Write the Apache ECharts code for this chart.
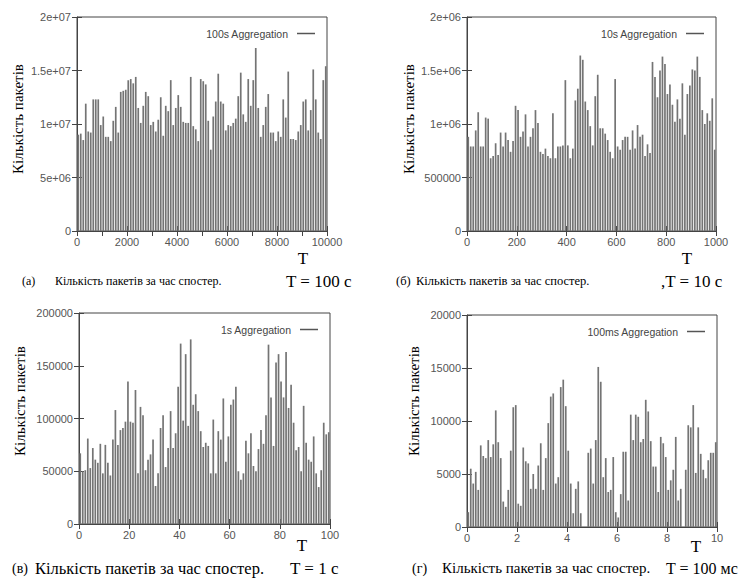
<!DOCTYPE html>
<html><head><meta charset="utf-8">
<script src="https://cdn.jsdelivr.net/npm/echarts@6/dist/echarts.min.js"></script>
<style>html,body{margin:0;padding:0;background:#fff}#c{width:744px;height:579px}</style>
</head><body><div id="c"></div><script>
// ---- data ----
const seriesNames = ['100s Aggregation', '10s Aggregation', '1s Aggregation', '100ms Aggregation'];
const binSteps = [100, 10, 1, 0.1];            // aggregation interval of each panel (T units)
const xMaxes = [10000, 1000, 100, 10];
const xTickLabelsA = ['0', '2000', '4000', '6000', '8000', '10000'];
const xTickLabelsB = ['0', '200', '400', '600', '800', '1000'];
const xTickLabelsC = ['0', '20', '40', '60', '80', '100'];
const xTickLabelsD = ['0', '2', '4', '6', '8', '10'];
const yTickLabelsA = ['0', '5e+06', '1e+07', '1.5e+07', '2e+07'];
const yTickLabelsB = ['0', '500000', '1e+06', '1.5e+06', '2e+06'];
const yTickLabelsC = ['0', '50000', '100000', '150000', '200000'];
const yTickLabelsD = ['0', '5000', '10000', '15000', '20000'];
const yMaxes = [2e7, 2e6, 200000, 20000];

const valuesA = [9.0e6,9.1e6,8.5e6,11.9e6,9.3e6,9.2e6,12.3e6,12.3e6,12.3e6,9.9e6,
 10.7e6,8.8e6,8.8e6,8.4e6,10.3e6,11.6e6,9.2e6,13.0e6,13.1e6,13.2e6,
 14.1e6,14.2e6,13.8e6,14.4e6,11.5e6,10.1e6,11.7e6,13.0e6,12.6e6,9.9e6,
 10.2e6,9.3e6,10.4e6,12.5e6,8.9e6,11.7e6,11.2e6,14.1e6,9.9e6,11.5e6,
 12.7e6,11.6e6,10.2e6,10.1e6,10.1e6,14.4e6,9.8e6,9.5e6,8.4e6,14.2e6,
 14.0e6,13.7e6,10.3e6,7.6e6,10.7e6,12.1e6,14.7e6,12.1e6,11.9e6,9.4e6,
 9.9e6,9.8e6,10.1e6,10.5e6,12.6e6,14.8e6,10.9e6,10.2e6,14.2e6,11.7e6,
 14.1e6,17.1e6,11.5e6,8.8e6,9.9e6,11.6e6,12.8e6,9.2e6,9.2e6,8.4e6,
 9.3e6,8.8e6,12.3e6,10.6e6,14.9e6,8.6e6,8.6e6,8.5e6,9.3e6,9.9e6,
 12.1e6,12.3e6,9.4e6,11.3e6,15.1e6,12.3e6,9.2e6,8.6e6,14.1e6,15.4e6];
const valuesB = [880000,790000,790000,940000,1110000,790000,790000,1060000,1050000,680000,
 700000,820000,710000,920000,790000,920000,850000,740000,840000,1170000,
 1130000,880000,930000,1090000,790000,880000,960000,1130000,1010000,740000,
 720000,770000,700000,680000,1100000,680000,790000,790000,800000,1410000,
 800000,680000,770000,1220000,1330000,1640000,1600000,1210000,1130000,980000,
 800000,1260000,1460000,960000,960000,910000,850000,740000,680000,1420000,
 790000,760000,850000,880000,880000,760000,940000,770000,990000,880000,
 900000,700000,810000,730000,1580000,1440000,1250000,1500000,1630000,1560000,
 1280000,1370000,1180000,1020000,1230000,1050000,1380000,900000,1280000,1360000,
 1510000,1500000,1630000,1440000,1130000,1000000,1100000,1030000,1240000,760000];
const valuesC = [67000,50000,51000,81000,53000,72000,61000,58000,76000,48000,
 75000,58000,46000,80000,108000,75000,89000,91000,97000,135000,
 97000,96000,127000,48000,111000,103000,51000,61000,66000,80000,
 36000,48000,91000,103000,54000,72000,107000,72000,86000,130000,
 171000,98000,161000,93000,175000,113000,123000,107000,88000,73000,
 77000,74000,48000,99000,48000,88000,80000,119000,59000,83000,
 113000,118000,130000,50000,42000,48000,79000,67000,86000,55000,
 50000,71000,89000,76000,103000,170000,120000,74000,153000,161000,
 135000,120000,163000,110000,132000,96000,70000,73000,50000,112000,
 77000,61000,59000,83000,48000,35000,51000,96000,85000,87000];
const valuesD = [1400,5500,4100,5200,3500,7700,6700,6500,8200,6600,
 7800,11000,8000,6500,2400,1900,3500,7200,11300,11500,
 2200,2000,7500,6200,6000,3600,5000,3600,5800,7900,
 3500,6500,9800,12300,12600,4100,4700,13200,13900,11400,
 7200,4100,1300,3600,4300,1300,0,0,7000,7400,
 4100,8200,15100,13700,4700,6500,3300,3500,6600,1400,
 900,3100,7100,7100,2500,10600,8200,10600,10400,8000,
 8300,12000,10900,8100,5700,5700,3300,8500,7900,6600,
 3500,4400,5400,8500,2500,3600,0,5400,9600,9400,
 11500,5100,9400,6900,5400,4600,6300,7000,7000,8000];

const yTitle = 'Кількість пакетів';
const xTitle = 'T';
const captionLetters = ['(а)', '(б)', '(в)', '(г)'];
const captionText = 'Кількість пакетів за час спостер.';
const captionT = ['T = 100 с', ',T = 10 с', 'T = 1 с', 'T = 100 мс'];

// ---- layout ----
const grids = [
  {left: 77, top: 17, width: 250, height: 214},
  {left: 467, top: 17, width: 249, height: 214},
  {left: 79, top: 313, width: 251, height: 211},
  {left: 467, top: 315, width: 250, height: 212}
];
const topTickSteps = [1000, 200, 20, 2];
const xLabels = [xTickLabelsA, xTickLabelsB, xTickLabelsC, xTickLabelsD];
const yLabels = [yTickLabelsA, yTickLabelsB, yTickLabelsC, yTickLabelsD];
const values = [valuesA, valuesB, valuesC, valuesD];

const frame = '#444';
const tickFont = {color: '#555', fontFamily: 'Liberation Sans', fontSize: 11};

const option = {animation: false, grid: [], xAxis: [], yAxis: [], series: [], legend: [], graphic: []};

for (let k = 0; k < 4; k++) {
  const g = grids[k];
  option.grid.push(Object.assign({show: true, borderColor: frame, borderWidth: 1, backgroundColor: '#fff'}, g));
  const xl = xLabels[k], yl = yLabels[k];
  const xStep = xMaxes[k] / (xl.length - 1), yStep = yMaxes[k] / (yl.length - 1);
  option.xAxis.push({
    gridIndex: k, type: 'value', min: 0, max: xMaxes[k], interval: xStep,
    axisLine: {show: true, lineStyle: {color: frame}},
    axisTick: {inside: true, length: 5, lineStyle: {color: frame}},
    splitLine: {show: false},
    axisLabel: Object.assign({margin: 5, formatter: v => xl[Math.round(v / xStep)]}, tickFont)
  });
  option.xAxis.push({
    gridIndex: k, type: 'value', position: 'top', min: 0, max: xMaxes[k], interval: topTickSteps[k],
    axisLine: {show: false}, axisTick: {inside: true, length: 5, lineStyle: {color: frame}},
    splitLine: {show: false}, axisLabel: {show: false}
  });
  option.yAxis.push({
    gridIndex: k, type: 'value', min: 0, max: yMaxes[k], interval: yStep,
    axisLine: {show: true, lineStyle: {color: frame}},
    axisTick: {inside: true, length: 5, lineStyle: {color: frame}},
    splitLine: {show: false},
    axisLabel: Object.assign({margin: 6, formatter: v => yl[Math.round(v / yStep)]}, tickFont)
  });
  option.yAxis.push({
    gridIndex: k, type: 'value', position: 'right', min: 0, max: yMaxes[k], interval: yStep,
    axisLine: {show: false}, axisTick: {inside: true, length: 5, lineStyle: {color: frame}},
    splitLine: {show: false}, axisLabel: {show: false}
  });
  const step = binSteps[k];
  option.series.push({
    type: 'bar', name: seriesNames[k], xAxisIndex: 2 * k, yAxisIndex: 2 * k,
    barWidth: 1.7, silent: true,
    itemStyle: {color: '#747474'},
    data: values[k].map((v, i) => [i * step + step / 2, v])
  });
  option.legend.push({
    data: [seriesNames[k]], right: 744 - (g.left + g.width - 12), top: g.top + 11,
    align: 'right', icon: 'rect', itemWidth: 18, itemHeight: 1.5, padding: 0,
    itemStyle: {color: '#555'},
    textStyle: {fontSize: 10.5, color: '#444', fontFamily: 'Liberation Sans', padding: [0, 4, 0, 0]}
  });
}

const serif = '"Liberation Serif", "Tinos", "Times New Roman", "Noto Serif", "DejaVu Serif", "FreeSerif", serif';
function txt(text, x, y, size, opts) {
  return Object.assign({type: 'text', x: x, y: y, silent: true,
    style: {text: text, font: size + 'px ' + serif, fill: '#000',
      textAlign: (opts && opts.align) || 'left', textVerticalAlign: 'middle'}}, (opts && opts.extra) || {});
}
const yTitlePos = [[18, 119], [409, 119], [20, 401], [414, 401]];
const xTitlePos = [[303, 258], [687, 258], [302, 545], [696, 546]];
const capY = [281, 281, 568, 568];
const capLetterX = [22, 396, 12, 412];
const capLetterSize = [12, 12.5, 14, 14];
const capTextX = [55, 416, 35, 442];
const capTextSize = [12, 12.5, 16.5, 15];
const capTX = [286, 661, 290, 666];
const capTSize = [17, 17, 17, 16];
for (let k = 0; k < 4; k++) {
  option.graphic.push(txt(yTitle, yTitlePos[k][0], yTitlePos[k][1], 15, {align: 'center', extra: {rotation: Math.PI / 2}}));
  option.graphic.push(txt(xTitle, xTitlePos[k][0], xTitlePos[k][1], 17, {align: 'center'}));
  option.graphic.push(txt(captionLetters[k], capLetterX[k], capY[k], capLetterSize[k]));
  option.graphic.push(txt(captionText, capTextX[k], capY[k], capTextSize[k]));
  option.graphic.push(txt(captionT[k], capTX[k], capY[k], capTSize[k]));
}

const chart = echarts.init(document.getElementById('c'), null, {renderer: 'svg'});
chart.setOption(option);
</script></body></html>
